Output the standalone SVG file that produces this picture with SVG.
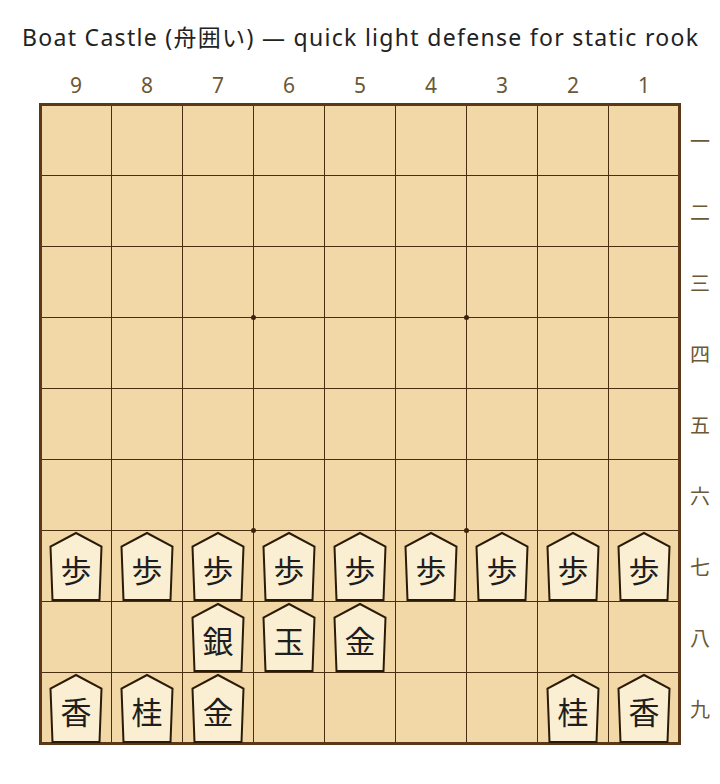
<svg xmlns="http://www.w3.org/2000/svg" xmlns:xlink="http://www.w3.org/1999/xlink" width="720" height="784" viewBox="0 0 720 784">
<style>
.title{font-family:"Noto Sans","Noto Sans CJK JP",sans-serif;font-size:23px;fill:#222;text-anchor:middle}
.col{font-family:"Noto Sans","Noto Sans CJK JP",sans-serif;font-size:21px;fill:#6b5836;text-anchor:middle}
.row{font-family:"Noto Sans CJK JP",sans-serif;font-size:20px;fill:#6b5836;text-anchor:middle;dominant-baseline:central}
.grid line{stroke:#4a2e12;stroke-width:1}
.pc{fill:#fbefd3;stroke:#2a1a08;stroke-width:2;stroke-linejoin:miter}
.pk{font-family:"Noto Sans CJK JP",sans-serif;font-size:31px;fill:#1e1e1e;text-anchor:middle;dominant-baseline:central}
</style>
<defs>
<path id="piece" d="M0,-33 L25.5,-19.5 L23.5,34 L-23.5,34 L-25.5,-19.5 Z"/>
</defs>
<rect width="720" height="784" fill="#ffffff"/>
<text class="title" x="360" y="46" textLength="676" lengthAdjust="spacing">Boat Castle (舟囲い) — quick light defense for static rook</text>
<g id="col-labels">
<text class="col" x="76" y="93">9</text>
<text class="col" x="147" y="93">8</text>
<text class="col" x="218" y="93">7</text>
<text class="col" x="289" y="93">6</text>
<text class="col" x="360" y="93">5</text>
<text class="col" x="431" y="93">4</text>
<text class="col" x="502" y="93">3</text>
<text class="col" x="573" y="93">2</text>
<text class="col" x="644" y="93">1</text>
</g>
<g id="row-labels">
<text class="row" x="700" y="140">一</text>
<text class="row" x="700" y="211">二</text>
<text class="row" x="700" y="282">三</text>
<text class="row" x="700" y="353">四</text>
<text class="row" x="700" y="424">五</text>
<text class="row" x="700" y="495">六</text>
<text class="row" x="700" y="566">七</text>
<text class="row" x="700" y="637">八</text>
<text class="row" x="700" y="708">九</text>
</g>
<g id="board">
<rect x="40.5" y="104.5" width="639" height="639" fill="#f2d8a6"/>
<g class="grid">
<line x1="111.5" y1="104.5" x2="111.5" y2="743.5"/>
<line x1="182.5" y1="104.5" x2="182.5" y2="743.5"/>
<line x1="253.5" y1="104.5" x2="253.5" y2="743.5"/>
<line x1="324.5" y1="104.5" x2="324.5" y2="743.5"/>
<line x1="395.5" y1="104.5" x2="395.5" y2="743.5"/>
<line x1="466.5" y1="104.5" x2="466.5" y2="743.5"/>
<line x1="537.5" y1="104.5" x2="537.5" y2="743.5"/>
<line x1="608.5" y1="104.5" x2="608.5" y2="743.5"/>
<line x1="40.5" y1="175.5" x2="679.5" y2="175.5"/>
<line x1="40.5" y1="246.5" x2="679.5" y2="246.5"/>
<line x1="40.5" y1="317.5" x2="679.5" y2="317.5"/>
<line x1="40.5" y1="388.5" x2="679.5" y2="388.5"/>
<line x1="40.5" y1="459.5" x2="679.5" y2="459.5"/>
<line x1="40.5" y1="530.5" x2="679.5" y2="530.5"/>
<line x1="40.5" y1="601.5" x2="679.5" y2="601.5"/>
<line x1="40.5" y1="672.5" x2="679.5" y2="672.5"/>
</g>
<g fill="#3a220c">
<circle cx="253.5" cy="317.5" r="2.5"/>
<circle cx="466.5" cy="317.5" r="2.5"/>
<circle cx="253.5" cy="530.5" r="2.5"/>
<circle cx="466.5" cy="530.5" r="2.5"/>
</g>
<rect x="40.5" y="104.5" width="639" height="639" fill="none" stroke="#5a3818" stroke-width="3"/>
</g>
<g id="p97" transform="translate(76,566)"><use href="#piece" class="pc"/><text class="pk" y="2">歩</text></g>
<g id="p87" transform="translate(147,566)"><use href="#piece" class="pc"/><text class="pk" y="2">歩</text></g>
<g id="p77" transform="translate(218,566)"><use href="#piece" class="pc"/><text class="pk" y="2">歩</text></g>
<g id="p67" transform="translate(289,566)"><use href="#piece" class="pc"/><text class="pk" y="2">歩</text></g>
<g id="p57" transform="translate(360,566)"><use href="#piece" class="pc"/><text class="pk" y="2">歩</text></g>
<g id="p47" transform="translate(431,566)"><use href="#piece" class="pc"/><text class="pk" y="2">歩</text></g>
<g id="p37" transform="translate(502,566)"><use href="#piece" class="pc"/><text class="pk" y="2">歩</text></g>
<g id="p27" transform="translate(573,566)"><use href="#piece" class="pc"/><text class="pk" y="2">歩</text></g>
<g id="p17" transform="translate(644,566)"><use href="#piece" class="pc"/><text class="pk" y="2">歩</text></g>
<g id="p78" transform="translate(218,637)"><use href="#piece" class="pc"/><text class="pk" y="2">銀</text></g>
<g id="p68" transform="translate(289,637)"><use href="#piece" class="pc"/><text class="pk" y="2">玉</text></g>
<g id="p58" transform="translate(360,637)"><use href="#piece" class="pc"/><text class="pk" y="2">金</text></g>
<g id="p99" transform="translate(76,708)"><use href="#piece" class="pc"/><text class="pk" y="2">香</text></g>
<g id="p89" transform="translate(147,708)"><use href="#piece" class="pc"/><text class="pk" y="2">桂</text></g>
<g id="p79" transform="translate(218,708)"><use href="#piece" class="pc"/><text class="pk" y="2">金</text></g>
<g id="p29" transform="translate(573,708)"><use href="#piece" class="pc"/><text class="pk" y="2">桂</text></g>
<g id="p19" transform="translate(644,708)"><use href="#piece" class="pc"/><text class="pk" y="2">香</text></g>
</svg>
